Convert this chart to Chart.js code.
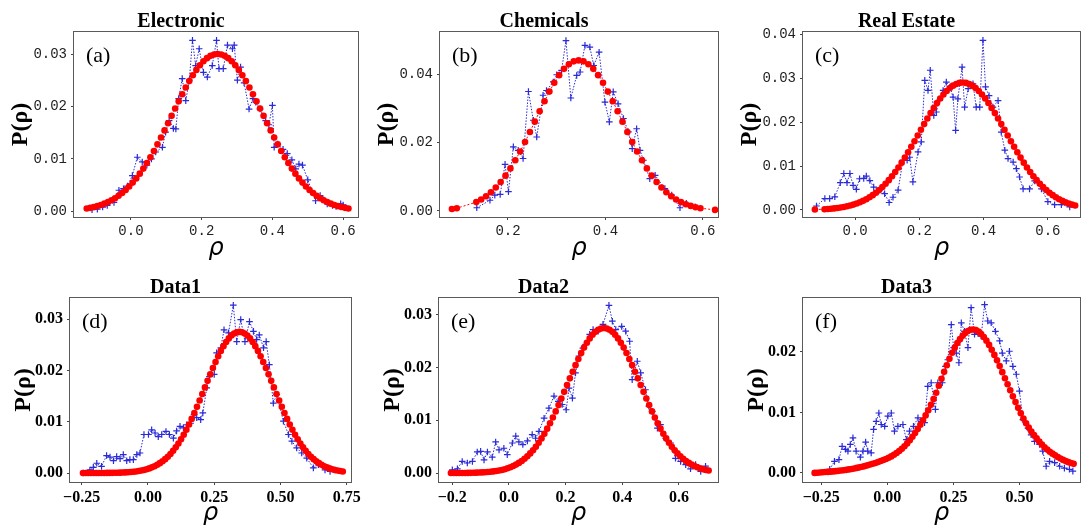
<!DOCTYPE html>
<html>
<head>
<meta charset="utf-8">
<script src="https://cdn.jsdelivr.net/npm/chart.js@4"></script>
<style>
  body { margin: 0; background: #fff; }
  #figure { position: relative; width: 1081px; height: 527px; overflow: hidden; background: #fff; }
  #figure canvas { position: absolute; }
</style>
</head>
<body>
<div id="figure"></div>
<script>
// ---- (a) Electronic ----
const aFitX = [-0.125,-0.115,-0.105,-0.095,-0.085,-0.075,-0.065,-0.055,-0.045,-0.035,-0.025,-0.015,-0.005,0.005,0.015,0.025,0.035,0.045,0.055,0.065,0.075,0.085,0.095,0.105,0.115,0.125,0.135,0.145,0.155,0.165,0.175,0.185,0.195,0.205,0.215,0.225,0.235,0.245,0.255,0.265,0.275,0.285,0.295,0.305,0.315,0.325,0.335,0.345,0.355,0.365,0.375,0.385,0.395,0.405,0.415,0.425,0.435,0.445,0.455,0.465,0.475,0.485,0.495,0.505,0.515,0.525,0.535,0.545,0.555,0.565,0.575,0.585,0.595,0.605,0.615];
const aFitY = [0.00052,0.00065,0.00080,0.00098,0.00120,0.00145,0.00175,0.00209,0.00249,0.00295,0.00347,0.00406,0.00472,0.00546,0.00627,0.00717,0.00814,0.00919,0.01031,0.01150,0.01276,0.01407,0.01542,0.01680,0.01820,0.01959,0.02097,0.02232,0.02361,0.02483,0.02595,0.02697,0.02786,0.02861,0.02921,0.02965,0.02991,0.03000,0.02991,0.02965,0.02921,0.02861,0.02786,0.02697,0.02595,0.02483,0.02361,0.02232,0.02097,0.01959,0.01820,0.01680,0.01542,0.01407,0.01276,0.01150,0.01031,0.00919,0.00814,0.00717,0.00627,0.00546,0.00472,0.00406,0.00347,0.00295,0.00249,0.00209,0.00175,0.00145,0.00120,0.00098,0.00080,0.00065,0.00052];
const aObsX = [-0.110,-0.095,-0.080,-0.067,-0.048,-0.034,-0.021,-0.010,0.004,0.018,0.032,0.045,0.058,0.070,0.089,0.098,0.108,0.120,0.127,0.135,0.145,0.155,0.165,0.174,0.183,0.193,0.205,0.216,0.230,0.242,0.249,0.261,0.273,0.287,0.292,0.301,0.310,0.320,0.334,0.345,0.353,0.365,0.381,0.390,0.400,0.405,0.415,0.430,0.442,0.455,0.466,0.475,0.485,0.500,0.522,0.535,0.545,0.555,0.570,0.580,0.593,0.600];
const aObsY = [0.0003,0.0004,0.0008,0.0011,0.0017,0.0040,0.0043,0.0048,0.0068,0.0103,0.0094,0.0088,0.0100,0.0113,0.0122,0.0151,0.0173,0.0158,0.0157,0.0215,0.0253,0.0211,0.0250,0.0326,0.0278,0.0310,0.0265,0.0256,0.0278,0.0326,0.0272,0.0272,0.0317,0.0310,0.0317,0.0250,0.0275,0.0245,0.0195,0.0215,0.0208,0.0195,0.0173,0.0165,0.0202,0.0122,0.0128,0.0118,0.0110,0.0098,0.0081,0.0090,0.0088,0.0060,0.0020,0.0030,0.0022,0.0014,0.0011,0.0009,0.0014,0.0012];
const aTickX = [0, 0.2, 0.4, 0.6];
const aTickY = [0, 0.01, 0.02, 0.03];

// ---- (b) Chemicals ----
const bFitX = [0.085,0.095,0.135,0.145,0.155,0.165,0.175,0.185,0.195,0.205,0.215,0.225,0.235,0.245,0.255,0.265,0.275,0.285,0.295,0.305,0.315,0.325,0.335,0.345,0.355,0.365,0.375,0.385,0.395,0.405,0.415,0.425,0.435,0.445,0.455,0.465,0.475,0.485,0.495,0.505,0.515,0.525,0.535,0.545,0.555,0.565,0.575,0.585,0.595,0.625];
const bFitY = [0.00056,0.00078,0.00255,0.00333,0.00428,0.00543,0.00681,0.00843,0.01029,0.01241,0.01478,0.01737,0.02014,0.02307,0.02608,0.02911,0.03207,0.03487,0.03744,0.03968,0.04152,0.04288,0.04372,0.04400,0.04372,0.04288,0.04152,0.03968,0.03744,0.03487,0.03207,0.02911,0.02608,0.02307,0.02014,0.01737,0.01478,0.01241,0.01029,0.00843,0.00681,0.00543,0.00428,0.00333,0.00255,0.00193,0.00145,0.00107,0.00078,0.00028];
const bObsX = [0.136,0.163,0.173,0.184,0.194,0.201,0.211,0.221,0.231,0.242,0.252,0.259,0.272,0.279,0.293,0.300,0.310,0.319,0.329,0.341,0.348,0.358,0.368,0.376,0.387,0.399,0.408,0.416,0.426,0.437,0.447,0.455,0.464,0.471,0.478,0.491,0.502,0.522,0.536,0.553,0.566,0.584];
const bObsY = [0.0009,0.0031,0.0046,0.0048,0.0136,0.0056,0.0187,0.0177,0.0153,0.0349,0.0265,0.0216,0.0338,0.0352,0.0377,0.0398,0.0411,0.0498,0.0330,0.0396,0.0406,0.0484,0.0479,0.0425,0.0464,0.0318,0.0260,0.0348,0.0313,0.0270,0.0231,0.0182,0.0240,0.0177,0.0148,0.0094,0.0104,0.0065,0.0046,0.0009,0.0022,0.0012];
const bTickX = [0.2, 0.4, 0.6];
const bTickY = [0, 0.02, 0.04];

// ---- (c) Real Estate ----
const cFitX = [-0.125,-0.095,-0.085,-0.075,-0.065,-0.055,-0.045,-0.035,-0.025,-0.015,-0.005,0.005,0.015,0.025,0.035,0.045,0.055,0.065,0.075,0.085,0.095,0.105,0.115,0.125,0.135,0.145,0.155,0.165,0.175,0.185,0.195,0.205,0.215,0.225,0.235,0.245,0.255,0.265,0.275,0.285,0.295,0.305,0.315,0.325,0.335,0.345,0.355,0.365,0.375,0.385,0.395,0.405,0.415,0.425,0.435,0.445,0.455,0.465,0.475,0.485,0.495,0.505,0.515,0.525,0.535,0.545,0.555,0.565,0.575,0.585,0.595,0.605,0.615,0.625,0.635,0.645,0.655,0.665,0.675,0.685];
const cFitY = [0.00009,0.00018,0.00023,0.00029,0.00036,0.00045,0.00055,0.00068,0.00083,0.00101,0.00122,0.00146,0.00175,0.00208,0.00245,0.00289,0.00337,0.00392,0.00454,0.00522,0.00597,0.00679,0.00769,0.00865,0.00968,0.01077,0.01192,0.01312,0.01437,0.01564,0.01694,0.01824,0.01954,0.02081,0.02204,0.02322,0.02433,0.02535,0.02627,0.02708,0.02775,0.02829,0.02868,0.02892,0.02900,0.02892,0.02868,0.02829,0.02775,0.02708,0.02627,0.02535,0.02433,0.02322,0.02204,0.02081,0.01954,0.01824,0.01694,0.01564,0.01437,0.01312,0.01192,0.01077,0.00968,0.00865,0.00769,0.00679,0.00597,0.00522,0.00454,0.00392,0.00337,0.00289,0.00245,0.00208,0.00175,0.00146,0.00122,0.00101];
const cObsX = [-0.120,-0.094,-0.079,-0.063,-0.046,-0.035,-0.025,-0.016,-0.006,0.004,0.014,0.027,0.035,0.046,0.058,0.077,0.092,0.106,0.118,0.134,0.149,0.162,0.170,0.180,0.196,0.206,0.217,0.227,0.234,0.245,0.253,0.263,0.274,0.284,0.295,0.305,0.313,0.320,0.333,0.341,0.352,0.367,0.377,0.388,0.398,0.406,0.417,0.429,0.445,0.455,0.466,0.476,0.492,0.502,0.512,0.523,0.543,0.559,0.569,0.580,0.600,0.621,0.642,0.668];
const cObsY = [0.0009,0.0026,0.0026,0.0030,0.0062,0.0083,0.0062,0.0083,0.0056,0.0047,0.0071,0.0072,0.0077,0.0067,0.0052,0.0045,0.0037,0.0017,0.0029,0.0045,0.0113,0.0113,0.0120,0.0064,0.0132,0.0155,0.0295,0.0272,0.0318,0.0215,0.0223,0.0250,0.0272,0.0291,0.0280,0.0257,0.0181,0.0253,0.0325,0.0234,0.0276,0.0287,0.0234,0.0234,0.0386,0.0280,0.0260,0.0234,0.0249,0.0177,0.0136,0.0117,0.0109,0.0094,0.0075,0.0048,0.0048,0.0066,0.0062,0.0048,0.0019,0.0012,0.0012,0.0007];
const cTickX = [0, 0.2, 0.4, 0.6];
const cTickY = [0, 0.01, 0.02, 0.03, 0.04];

// ---- (d) Data1 ----
const dFitX = [-0.245,-0.235,-0.225,-0.215,-0.205,-0.195,-0.185,-0.175,-0.165,-0.155,-0.145,-0.135,-0.125,-0.115,-0.105,-0.095,-0.085,-0.075,-0.065,-0.055,-0.045,-0.035,-0.025,-0.015,-0.005,0.005,0.015,0.025,0.035,0.045,0.055,0.065,0.075,0.085,0.095,0.105,0.115,0.125,0.135,0.145,0.155,0.165,0.175,0.185,0.195,0.205,0.215,0.225,0.235,0.245,0.255,0.265,0.275,0.285,0.295,0.305,0.315,0.325,0.335,0.345,0.355,0.365,0.375,0.385,0.395,0.405,0.415,0.425,0.435,0.445,0.455,0.465,0.475,0.485,0.495,0.505,0.515,0.525,0.535,0.545,0.555,0.565,0.575,0.585,0.595,0.605,0.615,0.625,0.635,0.645,0.655,0.665,0.675,0.685,0.695,0.705,0.715,0.725,0.735];
const dFitY = [0,0,0,0,0,0,0.00001,0.00001,0.00001,0.00002,0.00002,0.00003,0.00004,0.00005,0.00007,0.00009,0.00012,0.00015,0.00019,0.00024,0.00031,0.00038,0.00048,0.00059,0.00073,0.00090,0.00110,0.00133,0.00160,0.00192,0.00228,0.00270,0.00318,0.00372,0.00433,0.00500,0.00575,0.00657,0.00746,0.00842,0.00945,0.01054,0.01169,0.01289,0.01413,0.01540,0.01668,0.01796,0.01922,0.02046,0.02164,0.02276,0.02379,0.02472,0.02554,0.02623,0.02678,0.02718,0.02742,0.02750,0.02742,0.02718,0.02678,0.02623,0.02554,0.02472,0.02379,0.02276,0.02164,0.02046,0.01922,0.01796,0.01668,0.01540,0.01413,0.01289,0.01169,0.01054,0.00945,0.00842,0.00746,0.00657,0.00575,0.00500,0.00433,0.00372,0.00318,0.00270,0.00228,0.00192,0.00160,0.00133,0.00110,0.00090,0.00073,0.00059,0.00048,0.00038,0.00031];
const dObsX = [-0.244,-0.219,-0.206,-0.193,-0.175,-0.156,-0.143,-0.130,-0.118,-0.105,-0.093,-0.080,-0.068,-0.055,-0.042,-0.030,-0.015,0.002,0.014,0.027,0.039,0.052,0.068,0.081,0.096,0.108,0.121,0.134,0.146,0.161,0.174,0.184,0.199,0.207,0.222,0.232,0.250,0.259,0.275,0.287,0.304,0.322,0.335,0.350,0.366,0.383,0.398,0.410,0.420,0.436,0.446,0.458,0.473,0.486,0.511,0.530,0.543,0.561,0.580,0.599,0.624,0.643,0.668,0.687,0.706];
const dObsY = [0.0000,0.0006,0.0011,0.0019,0.0013,0.0034,0.0031,0.0024,0.0032,0.0028,0.0036,0.0024,0.0026,0.0026,0.0036,0.0039,0.0075,0.0075,0.0084,0.0078,0.0071,0.0075,0.0081,0.0075,0.0068,0.0082,0.0091,0.0088,0.0094,0.0097,0.0114,0.0108,0.0104,0.0117,0.0166,0.0188,0.0192,0.0234,0.0244,0.0279,0.0273,0.0327,0.0256,0.0299,0.0256,0.0295,0.0276,0.0260,0.0269,0.0244,0.0256,0.0211,0.0136,0.0153,0.0101,0.0075,0.0062,0.0049,0.0039,0.0029,0.0010,0.0016,0.0006,0.0003,0.0006];
const dTickX = [-0.25, 0, 0.25, 0.5, 0.75];
const dTickY = [0, 0.01, 0.02, 0.03];

// ---- (e) Data2 ----
const eFitX = [-0.205,-0.195,-0.185,-0.175,-0.165,-0.155,-0.145,-0.135,-0.125,-0.115,-0.105,-0.095,-0.085,-0.075,-0.065,-0.055,-0.045,-0.035,-0.025,-0.015,-0.005,0.005,0.015,0.025,0.035,0.045,0.055,0.065,0.075,0.085,0.095,0.105,0.115,0.125,0.135,0.145,0.155,0.165,0.175,0.185,0.195,0.205,0.215,0.225,0.235,0.245,0.255,0.265,0.275,0.285,0.295,0.305,0.315,0.325,0.335,0.345,0.355,0.365,0.375,0.385,0.395,0.405,0.415,0.425,0.435,0.445,0.455,0.465,0.475,0.485,0.495,0.505,0.515,0.525,0.535,0.545,0.555,0.565,0.575,0.585,0.595,0.605,0.615,0.625,0.635,0.645,0.655,0.665,0.675,0.685,0.695,0.705];
const eFitY = [0,0.00001,0.00001,0.00001,0.00002,0.00002,0.00003,0.00004,0.00005,0.00007,0.00009,0.00012,0.00015,0.00019,0.00024,0.00031,0.00038,0.00048,0.00059,0.00073,0.00090,0.00110,0.00133,0.00160,0.00192,0.00228,0.00270,0.00318,0.00372,0.00433,0.00500,0.00575,0.00657,0.00746,0.00842,0.00945,0.01054,0.01169,0.01289,0.01413,0.01540,0.01668,0.01796,0.01922,0.02046,0.02164,0.02276,0.02379,0.02472,0.02554,0.02623,0.02678,0.02718,0.02742,0.02750,0.02742,0.02718,0.02678,0.02623,0.02554,0.02472,0.02379,0.02276,0.02164,0.02046,0.01922,0.01796,0.01668,0.01540,0.01413,0.01289,0.01169,0.01054,0.00945,0.00842,0.00746,0.00657,0.00575,0.00500,0.00433,0.00372,0.00318,0.00270,0.00228,0.00192,0.00160,0.00133,0.00110,0.00090,0.00073,0.00059,0.00048];
const eObsX = [-0.200,-0.182,-0.165,-0.147,-0.129,-0.112,-0.100,-0.088,-0.076,-0.059,-0.047,-0.035,-0.018,-0.006,0.012,0.024,0.035,0.049,0.065,0.082,0.094,0.106,0.124,0.141,0.159,0.174,0.188,0.202,0.212,0.224,0.235,0.247,0.261,0.271,0.285,0.297,0.315,0.332,0.353,0.365,0.377,0.398,0.412,0.426,0.435,0.453,0.465,0.482,0.494,0.506,0.524,0.535,0.553,0.571,0.588,0.606,0.624,0.641,0.659,0.677,0.694];
const eObsY = [0.0006,0.0008,0.0022,0.0019,0.0022,0.0040,0.0041,0.0025,0.0040,0.0030,0.0059,0.0044,0.0047,0.0035,0.0057,0.0070,0.0059,0.0054,0.0061,0.0073,0.0066,0.0079,0.0104,0.0123,0.0146,0.0136,0.0130,0.0120,0.0161,0.0142,0.0190,0.0222,0.0237,0.0244,0.0263,0.0272,0.0269,0.0282,0.0318,0.0288,0.0272,0.0278,0.0269,0.0250,0.0177,0.0212,0.0190,0.0158,0.0127,0.0117,0.0085,0.0092,0.0066,0.0057,0.0028,0.0022,0.0016,0.0008,0.0016,0.0003,0.0013];
const eTickX = [-0.2, 0, 0.2, 0.4, 0.6];
const eTickY = [0, 0.01, 0.02, 0.03];

// ---- (f) Data3 ----
const fFitX = [-0.275,-0.265,-0.255,-0.245,-0.235,-0.225,-0.215,-0.205,-0.195,-0.185,-0.175,-0.165,-0.155,-0.145,-0.135,-0.125,-0.115,-0.105,-0.095,-0.085,-0.075,-0.065,-0.055,-0.045,-0.035,-0.025,-0.015,-0.005,0.005,0.015,0.025,0.035,0.045,0.055,0.065,0.075,0.085,0.095,0.105,0.115,0.125,0.135,0.145,0.155,0.165,0.175,0.185,0.195,0.205,0.215,0.225,0.235,0.245,0.255,0.265,0.275,0.285,0.295,0.305,0.315,0.325,0.335,0.345,0.355,0.365,0.375,0.385,0.395,0.405,0.415,0.425,0.435,0.445,0.455,0.465,0.475,0.485,0.495,0.505,0.515,0.525,0.535,0.545,0.555,0.565,0.575,0.585,0.595,0.605,0.615,0.625,0.635,0.645,0.655,0.665,0.675,0.685,0.695,0.705];
const fFitY = [0,0.00004,0.00008,0.00011,0.00014,0.00017,0.00021,0.00025,0.00029,0.00034,0.00039,0.00045,0.00051,0.00058,0.00066,0.00074,0.00083,0.00092,0.00102,0.00113,0.00125,0.00138,0.00151,0.00165,0.00180,0.00196,0.00213,0.00230,0.00250,0.00273,0.00300,0.00330,0.00363,0.00398,0.00440,0.00488,0.00541,0.00598,0.00660,0.00725,0.00795,0.00870,0.00950,0.01035,0.01125,0.01220,0.01325,0.01440,0.01555,0.01670,0.01780,0.01885,0.01985,0.02070,0.02145,0.02210,0.02265,0.02310,0.02345,0.02365,0.02370,0.02360,0.02335,0.02295,0.02245,0.02185,0.02115,0.02035,0.01950,0.01860,0.01765,0.01665,0.01565,0.01465,0.01365,0.01265,0.01170,0.01075,0.00985,0.00900,0.00820,0.00750,0.00685,0.00625,0.00570,0.00520,0.00470,0.00425,0.00385,0.00350,0.00318,0.00290,0.00263,0.00238,0.00215,0.00195,0.00178,0.00163,0.00150];
const fObsX = [-0.218,-0.200,-0.183,-0.171,-0.158,-0.149,-0.140,-0.130,-0.118,-0.102,-0.092,-0.082,-0.074,-0.061,-0.052,-0.042,-0.032,-0.023,-0.010,0.002,0.015,0.027,0.040,0.059,0.072,0.084,0.099,0.116,0.128,0.141,0.153,0.166,0.182,0.191,0.208,0.220,0.229,0.242,0.251,0.261,0.271,0.280,0.292,0.305,0.317,0.330,0.343,0.355,0.368,0.380,0.393,0.409,0.425,0.435,0.450,0.462,0.475,0.488,0.500,0.513,0.532,0.544,0.557,0.576,0.588,0.601,0.614,0.633,0.652,0.670,0.689,0.702];
const fObsY = [0.0006,0.0019,0.0022,0.0044,0.0039,0.0036,0.0047,0.0058,0.0036,0.0026,0.0036,0.0051,0.0036,0.0033,0.0072,0.0085,0.0099,0.0080,0.0077,0.0094,0.0099,0.0069,0.0077,0.0080,0.0055,0.0069,0.0077,0.0091,0.0085,0.0083,0.0143,0.0149,0.0105,0.0149,0.0149,0.0176,0.0187,0.0245,0.0207,0.0198,0.0182,0.0248,0.0234,0.0207,0.0273,0.0229,0.0231,0.0226,0.0278,0.0251,0.0248,0.0234,0.0218,0.0198,0.0185,0.0201,0.0176,0.0163,0.0135,0.0088,0.0074,0.0063,0.0052,0.0047,0.0036,0.0011,0.0019,0.0017,0.0011,0.0008,0.0006,0.0003];
const fTickX = [-0.25, 0, 0.25, 0.5];
const fTickY = [0, 0.01, 0.02];

// panel layout: plot box [left, top, right, bottom] in page pixels, axis limits, ticks
const panels = [
  { title: 'Electronic',  tag: '(a)', box: [74, 32, 358, 217],  xLim: [-0.161, 0.642], yLim: [-0.0011, 0.0342],
    fitX: aFitX, fitY: aFitY, obsX: aObsX, obsY: aObsY, tickX: aTickX, tickY: aTickY, xDec: 1, row: 'top' },
  { title: 'Chemicals',   tag: '(b)', box: [440, 32, 718, 217], xLim: [0.0605, 0.631], yLim: [-0.0018, 0.0523],
    fitX: bFitX, fitY: bFitY, obsX: bObsX, obsY: bObsY, tickX: bTickX, tickY: bTickY, xDec: 1, row: 'top' },
  { title: 'Real Estate', tag: '(c)', box: [803, 32, 1080, 217], xLim: [-0.162, 0.700], yLim: [-0.0016, 0.0405],
    fitX: cFitX, fitY: cFitY, obsX: cObsX, obsY: cObsY, tickX: cTickX, tickY: cTickY, xDec: 1, row: 'top' },
  { title: 'Data1', tag: '(d)', box: [70, 298, 351, 482],  xLim: [-0.294, 0.766], yLim: [-0.00175, 0.0341],
    fitX: dFitX, fitY: dFitY, obsX: dObsX, obsY: dObsY, tickX: dTickX, tickY: dTickY, xDec: 2, row: 'bottom' },
  { title: 'Data2', tag: '(e)', box: [439, 298, 718, 482], xLim: [-0.247, 0.738], yLim: [-0.0017, 0.0332],
    fitX: eFitX, fitY: eFitY, obsX: eObsX, obsY: eObsY, tickX: eTickX, tickY: eTickY, xDec: 1, row: 'bottom' },
  { title: 'Data3', tag: '(f)', box: [803, 298, 1080, 482], xLim: [-0.319, 0.729], yLim: [-0.0015, 0.0289],
    fitX: fFitX, fitY: fFitY, obsX: fObsX, obsY: fObsY, tickX: fTickX, tickY: fTickY, xDec: 2, row: 'bottom' }
];

const AXIS_W = 70, TITLE_H = 32, XAXIS_H = 45, PAD_R = 20;

const rowStyle = {
  top:    { tick: { family: 'Liberation Mono', size: 14 }, tickColor: '#222', yTitleGap: 53 },
  bottom: { tick: { family: 'Liberation Serif', size: 16, weight: 'bold' }, tickColor: '#000', yTitleGap: 46 }
};

function fmtTick(v, dec) {
  const s = Math.abs(v) < 1e-9 ? (0).toFixed(dec) : v.toFixed(dec);
  return s.replace('-', '\u2212');
}

function toPoints(xs, ys) {
  return xs.map((x, i) => ({ x: x, y: ys[i] }));
}

// grey box around the plot area and the (a)..(f) panel letter
const frameAndTag = {
  id: 'frameAndTag',
  afterDatasetsDraw(chart, args, opts) {
    const { ctx, chartArea: a } = chart;
    ctx.save();
    ctx.strokeStyle = '#5a5a5a';
    ctx.lineWidth = 1;
    ctx.strokeRect(a.left - 0.5, a.top - 0.5, a.right - a.left + 1, a.bottom - a.top + 1);
    ctx.fillStyle = '#000';
    ctx.font = '22px "Liberation Serif"';
    ctx.textBaseline = 'top';
    ctx.fillText(opts.tag, a.left + 12, a.top + 13);
    ctx.restore();
  }
};

const figure = document.getElementById('figure');

panels.forEach(p => {
  const [l, t, r, b] = p.box;
  const st = rowStyle[p.row];
  const canvas = document.createElement('canvas');
  canvas.width = AXIS_W + (r - l) + PAD_R;
  canvas.height = TITLE_H + (b - t) + XAXIS_H;
  canvas.style.left = (l - AXIS_W) + 'px';
  canvas.style.top = (t - TITLE_H) + 'px';
  figure.appendChild(canvas);

  const yTitleSize = 24;
  const yTitlePad = (AXIS_W - st.yTitleGap) - yTitleSize * 1.2 / 2;

  new Chart(canvas.getContext('2d'), {
    type: 'line',
    data: {
      datasets: [
        {
          // fitted curve, drawn on top
          data: toPoints(p.fitX, p.fitY),
          borderColor: '#ff0000',
          borderWidth: 1,
          borderDash: [2, 2],
          pointRadius: 3.3,
          pointBackgroundColor: '#ff0000',
          pointBorderColor: '#ff0000',
          pointBorderWidth: 0
        },
        {
          // empirical distribution
          data: toPoints(p.obsX, p.obsY),
          borderColor: '#2a2ad8',
          borderWidth: 1,
          borderDash: [1.5, 1.5],
          pointStyle: 'cross',
          pointRadius: 3.3,
          pointBorderColor: '#2a2ad8',
          pointBorderWidth: 1.2
        }
      ]
    },
    options: {
      responsive: false,
      animation: false,
      devicePixelRatio: 1,
      events: [],
      layout: { padding: { left: 0, top: 0, right: PAD_R, bottom: 0 } },
      plugins: {
        legend: { display: false },
        tooltip: { enabled: false },
        title: {
          display: true,
          text: p.title,
          color: '#000',
          font: { family: 'Liberation Serif', weight: 'bold', size: 20, lineHeight: 1 },
          padding: { top: 12, bottom: 0 }
        },
        frameAndTag: { tag: p.tag }
      },
      scales: {
        x: {
          type: 'linear',
          min: p.xLim[0],
          max: p.xLim[1],
          afterBuildTicks: s => { s.ticks = p.tickX.map(v => ({ value: v })); },
          afterFit: s => { s.height = XAXIS_H; },
          border: { display: false },
          grid: { display: true, drawOnChartArea: false, drawTicks: true, tickLength: 3, color: '#444' },
          ticks: {
            autoSkip: false, maxRotation: 0, padding: 3,
            color: st.tickColor, font: st.tick,
            callback: v => fmtTick(v, p.xDec)
          },
          title: {
            display: true, text: 'ρ', color: '#000',
            font: { family: 'DejaVu Sans', style: 'italic', size: 24, lineHeight: 1.2 },
            padding: { top: 0, bottom: -1 }
          }
        },
        y: {
          type: 'linear',
          min: p.yLim[0],
          max: p.yLim[1],
          afterBuildTicks: s => { s.ticks = p.tickY.map(v => ({ value: v })); },
          afterFit: s => { s.width = AXIS_W; },
          border: { display: false },
          grid: { display: true, drawOnChartArea: false, drawTicks: true, tickLength: 3, color: '#444' },
          ticks: {
            autoSkip: false, padding: 4,
            color: st.tickColor, font: st.tick,
            callback: v => fmtTick(v, 2)
          },
          title: {
            display: true, text: 'P(ρ)', color: '#000',
            font: { family: 'Liberation Serif', weight: 'bold', size: yTitleSize, lineHeight: 1.2 },
            padding: { top: yTitlePad, bottom: 0 }
          }
        }
      }
    },
    plugins: [frameAndTag]
  });
});
</script>
</body>
</html>
